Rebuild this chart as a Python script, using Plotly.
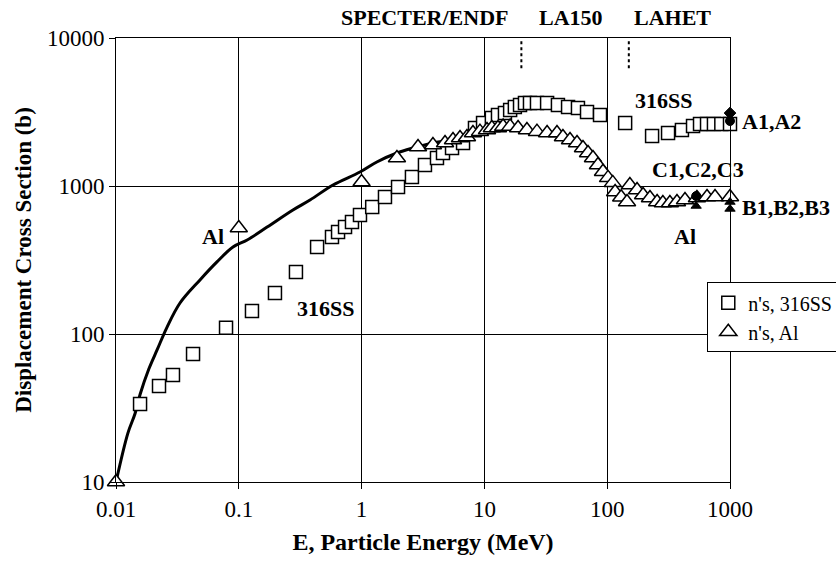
import plotly.graph_objects as go

# ---- data ----
ss_E = [0.0157, 0.0224, 0.0291, 0.0424, 0.0787, 0.128, 0.197, 0.292, 0.434, 0.574, 0.643,
        0.733, 0.835, 0.97, 1.22, 1.55, 1.98, 2.57, 3.28, 4.11, 4.60, 5.45, 6.70, 8.38, 9.75,
        11.5, 12.9, 14.7, 16.2, 17.7, 19.5, 21.4, 23.5, 26.8, 32.4, 39.7, 48.0, 57.8, 68.5,
        87.4, 140, 232, 313, 406, 500, 570, 650, 740, 850, 1000]
ss_D = [33.6, 44.6, 52.8, 73.2, 110, 143, 189, 262, 387, 452, 489,
        528, 572, 637, 721, 843, 984, 1150, 1387, 1545, 1671, 1806, 1954, 2466, 2666,
        2880, 3020, 3110, 3265, 3420, 3530, 3640, 3640, 3640, 3640, 3530, 3420, 3367, 3160,
        3020, 2666, 2177, 2280, 2390, 2545, 2624, 2624, 2624, 2624, 2624]

al_E = [0.01, 0.1, 1.0, 1.94, 2.88, 3.81, 4.78, 5.55, 6.33, 7.21, 8.07, 9.2, 10.5, 11.5,
        12.9, 14.2, 16.2, 18.8, 22.2, 26.8, 32.4, 39, 43.6, 49.8, 56.8, 63.5, 69.8, 76.6,
        84.1, 92.4, 101.6, 111, 116, 130, 145, 153, 175, 196, 223, 255, 284, 324, 370, 430,
        538, 650, 755, 1000]
al_D = [10, 520, 1064, 1545, 1835, 1892, 1954, 2046, 2110, 2146, 2280, 2330, 2390, 2466,
        2466, 2520, 2520, 2466, 2390, 2330, 2280, 2280, 2146, 2046, 1954, 1806, 1671, 1545,
        1387, 1248, 1135, 1050, 910, 840, 780, 1016, 940, 869, 829, 780, 768, 768, 780, 805,
        829, 843, 843, 843]

curve_E = [0.01, 0.0125, 0.0143, 0.0157, 0.0185, 0.0216, 0.026, 0.0332, 0.0483, 0.0664, 0.0897,
           0.117, 0.17, 0.276, 0.38, 0.585, 0.97, 1.33, 1.94, 2.62, 3.81, 5.25, 7.7, 11.1]
curve_D = [10, 21.4, 29, 39, 58, 78, 111, 162, 232, 307, 387,
           432, 528, 689, 804, 1016, 1243, 1453, 1671, 1806, 1954, 2046, 2213, 2390]

# measured points (filled black)
A_E = [1000, 1000]
A_D = [3110, 2750]
A_sym = ["diamond", "circle"]
C_E = [530, 530]
C_D = [855, 733]
C_sym = ["circle", "triangle-up"]
B_E = [1000, 1000]
B_D = [780, 700]
B_sym = ["triangle-up", "triangle-up"]

code_bounds = [20, 150]
code_labels = ["SPECTER/ENDF", "LA150", "LAHET"]

x_ticks = [0.01, 0.1, 1, 10, 100, 1000]
x_ticktext = ["0.01", "0.1", "1", "10", "100", "1000"]
y_ticks = [10, 100, 1000, 10000]
y_ticktext = ["10", "100", "1000", "10000"]

FONT = "Liberation Serif"

fig = go.Figure()
fig.add_trace(go.Scatter(x=curve_E, y=curve_D, mode="lines", line=dict(color="black", width=3, shape="spline"),
                         showlegend=False, hoverinfo="skip", cliponaxis=False))
fig.add_trace(go.Scatter(x=ss_E, y=ss_D, mode="markers", name="n's, 316SS", cliponaxis=False,
                         marker=dict(symbol="square", size=13, color="white",
                                     line=dict(color="black", width=1.5))))
fig.add_trace(go.Scatter(x=al_E, y=al_D, mode="markers", name="n's, Al", cliponaxis=False,
                         marker=dict(symbol="triangle-up", size=15, color="white",
                                     line=dict(color="black", width=1.5))))
for E, D, S in [(A_E, A_D, A_sym), (C_E, C_D, C_sym), (B_E, B_D, B_sym)]:
    fig.add_trace(go.Scatter(x=E, y=D, mode="markers", showlegend=False, cliponaxis=False,
                             marker=dict(symbol=S, size=9, color="black",
                                         line=dict(color="black", width=1))))

for b in code_bounds:
    fig.add_shape(type="line", xref="x", yref="paper", x0=b, x1=b, y0=0.932, y1=0.995,
                  line=dict(color="black", width=2, dash="dot"))

bold = dict(family=FONT, size=22, color="black", weight="bold")
top_pos = [(0.503, 1.047), (0.741, 1.047), (0.907, 1.047)]
for txt, (px, py) in zip(code_labels, top_pos):
    fig.add_annotation(text=txt, x=px, y=py, xref="paper", yref="paper", showarrow=False,
                       font=bold, xanchor="center", yanchor="middle")

labels = [
    ("316SS", 0.892, 0.860, "center"),
    ("A1,A2", 1.016, 0.811, "left"),
    ("C1,C2,C3", 0.948, 0.703, "center"),
    ("B1,B2,B3", 1.016, 0.619, "left"),
    ("Al", 0.927, 0.554, "center"),
    ("Al", 0.158, 0.554, "center"),
    ("316SS", 0.342, 0.39, "center"),
]
for txt, px, py, xa in labels:
    fig.add_annotation(text=txt, x=px, y=py, xref="paper", yref="paper", showarrow=False,
                       font=bold, xanchor=xa, yanchor="middle")

axis_common = dict(showline=True, linecolor="black", linewidth=1, mirror=True,
                   showgrid=True, gridcolor="black", gridwidth=1,
                   ticks="outside", ticklen=6, tickcolor="black",
                   tickfont=dict(family=FONT, size=23, color="black"), zeroline=False)

fig.update_layout(
    width=836, height=562,
    margin=dict(l=116, r=106, t=38, b=80, autoexpand=False),
    paper_bgcolor="white", plot_bgcolor="white",
    font=dict(family=FONT, color="black"),
    xaxis=dict(type="log", range=[-2, 3], tickvals=x_ticks, ticktext=x_ticktext,
               title=dict(text="E, Particle Energy (MeV)", font=dict(family=FONT, size=24, weight="bold"),
                          standoff=12),
               **axis_common),
    yaxis=dict(type="log", range=[1, 4], tickvals=y_ticks, ticktext=y_ticktext,
               title=dict(text="Displacement Cross Section (b)", font=dict(family=FONT, size=23, weight="bold"),
                          standoff=8),
               **axis_common),
    legend=dict(x=0.963, y=0.45, xanchor="left", yanchor="top", bgcolor="white",
                bordercolor="black", borderwidth=1,
                font=dict(family=FONT, size=20, color="black"), itemwidth=30),
    showlegend=True,
)

fig.write_html("out.html")
